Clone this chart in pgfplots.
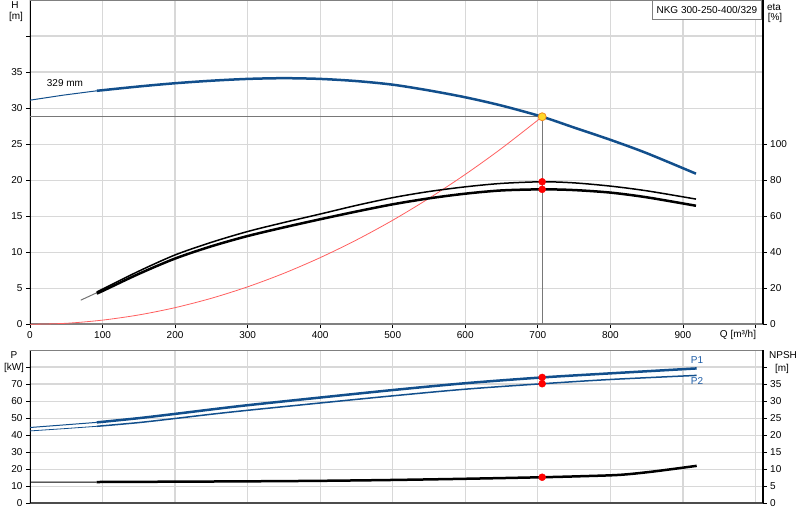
\documentclass[border=0pt]{standalone}
\usepackage{fontspec}
\setmainfont{Liberation Sans}
\usepackage{pgfplots}
\pgfplotsset{compat=1.18}

\definecolor{hblue}{RGB}{18,79,140}
\definecolor{pblue}{RGB}{30,92,165}
\definecolor{gridc}{RGB}{216,216,216}
\definecolor{axgray}{RGB}{128,128,128}
\definecolor{oplgray}{RGB}{120,120,120}
\definecolor{sysred}{RGB}{255,95,95}
\definecolor{opyel}{RGB}{255,215,40}
\definecolor{opor}{RGB}{240,140,30}

\pgfplotsset{
  base/.style={
    scale only axis,
    anchor=south west,
    width=732.7pt,
    xmin=0, xmax=1010,
    tick align=outside,
    major tick length=4pt,
    tick style={black, line width=0.8pt},
    tick label style={font=\fontsize{10}{12}\selectfont},
    /pgf/number format/assume math mode=true,
    grid style={gridc, line width=1.2pt},
  },
}

\begin{document}
\begin{tikzpicture}[font=\fontsize{10}{12}\selectfont]
\path[use as bounding box] (0,0) rectangle (800pt,520pt);

% ---------- top panel: H ----------
\begin{axis}[base, at={(30pt,195.7pt)}, height=324.3pt,
  ymin=0, ymax=45,
  axis x line*=bottom, axis y line*=left,
  xtick={0,100,...,1000},
  xticklabels={0,100,200,300,400,500,600,700,800,900,{}},
  ytick={0,5,...,40},
  yticklabels={0,5,10,15,20,25,30,35,{}},
  grid=major,
  x axis line style={-, axgray, line width=2pt},
  y axis line style={-, black, line width=1pt},
]
\draw[axgray, line width=1pt] (rel axis cs:0,1) -- (rel axis cs:1,1);
% operating point lines
\addplot[oplgray, line width=1pt] coordinates {(0,28.8) (706,28.8) (706,0)};
% system curve
\addplot[sysred, line width=0.8pt, smooth] coordinates {
  (0,0) (50,0.14) (100,0.58) (150,1.30) (200,2.31) (250,3.61) (300,5.20)
  (350,7.08) (400,9.25) (450,11.70) (500,14.44) (550,17.48) (600,20.80)
  (650,24.41) (706,28.8)};
% H curve
\addplot[hblue, line width=1pt] coordinates {(0,31.1) (46,31.8) (92,32.4)};
\addplot[hblue, line width=2.5pt, smooth] coordinates {
  (92,32.4) (150,33.0) (200,33.45) (250,33.8) (300,34.05) (350,34.15)
  (400,34.05) (450,33.75) (500,33.25) (550,32.45) (600,31.5) (650,30.35)
  (706,28.8) (750,27.3) (800,25.6) (850,23.75) (918,20.9)};
\addplot[only marks, mark=*, mark size=4pt,
  mark options={fill=opyel, draw=opor, line width=0.8pt}] coordinates {(706,28.8)};
\node[anchor=west, inner sep=0pt] at (axis cs:23,33.5) {329 mm};
\end{axis}

% ---------- top panel: eta ----------
\begin{axis}[base, at={(30pt,195.7pt)}, height=324.3pt,
  ymin=0, ymax=180,
  axis x line=none, axis y line*=right,
  ytick={0,20,...,100},
  y axis line style={-, black, line width=2pt},
]
\addplot[black!55, line width=1pt] coordinates {(70,13.4) (92,17.5)};
\addplot[black, line width=1.5pt, smooth] coordinates {
  (92,17.9) (100,19.5) (150,29.5) (200,38.5) (250,45.5) (300,51.5)
  (350,56.5) (400,61.2) (450,66.0) (500,70.3) (550,73.7) (600,76.3)
  (650,78.2) (706,79.1) (750,78.5) (800,76.7) (850,74.1) (918,69.5)};
\addplot[black, line width=2.5pt, smooth] coordinates {
  (92,17.1) (100,18.5) (150,28.0) (200,36.5) (250,43.3) (300,49.0)
  (350,53.8) (400,58.3) (450,62.6) (500,66.6) (550,69.9) (600,72.5)
  (650,74.3) (706,74.9) (750,74.5) (800,73.1) (850,70.5) (918,65.8)};
\addplot[only marks, mark=*, mark size=3.5pt, red] coordinates {(706,79.1) (706,74.9)};
\end{axis}

% ---------- bottom panel: P ----------
\begin{axis}[base, at={(30pt,16.7pt)}, height=153.3pt,
  ymin=0, ymax=90,
  axis x line*=bottom, axis y line*=left,
  xtick={0,100,...,1000}, xmajorticks=false,
  ytick={0,10,...,80},
  yticklabels={0,10,20,30,40,50,60,70,{}},
  grid=major,
  x axis line style={-, black!70, line width=2pt},
  y axis line style={-, black, line width=1pt},
]
\draw[axgray, line width=2pt] (rel axis cs:0,1) -- (rel axis cs:1,1);
\addplot[hblue, line width=1pt] coordinates {(0,44.5) (46,46.0) (92,47.5)};
\addplot[hblue, line width=2.5pt, smooth] coordinates {
  (92,47.5) (150,50.0) (200,52.5) (250,55.1) (300,57.6) (400,62.1)
  (500,66.5) (600,70.5) (706,73.9) (800,76.3) (919,79.2)};
\addplot[hblue, line width=0.8pt] coordinates {(0,42.5) (46,43.8) (92,45.2)};
\addplot[hblue, line width=1.5pt, smooth] coordinates {
  (92,45.2) (150,47.4) (200,49.8) (250,52.3) (300,54.6) (400,58.9)
  (500,63.1) (600,67.0) (706,70.2) (800,72.7) (919,75.1)};
\addplot[only marks, mark=*, mark size=3.5pt, red] coordinates {(706,73.9) (706,70.2)};
\end{axis}

% ---------- bottom panel: NPSH ----------
\begin{axis}[base, at={(30pt,16.7pt)}, height=153.3pt,
  ymin=0, ymax=45,
  axis x line=none, axis y line*=right,
  ytick={0,5,...,40},
  yticklabels={0,5,10,15,20,25,30,35,{}},
  y axis line style={-, black, line width=2pt},
]
\addplot[black, line width=1pt] coordinates {(0,6.2) (92,6.25)};
\addplot[black, line width=2.5pt, smooth] coordinates {
  (92,6.25) (200,6.35) (300,6.45) (400,6.6) (500,6.85) (600,7.2)
  (706,7.65) (760,7.95) (813,8.35) (858,9.3) (919,11.0)};
\addplot[only marks, mark=*, mark size=3.5pt, red] coordinates {(706,7.65)};
\end{axis}

% ---------- texts ----------
\node at (15pt,515pt) {H};
\node at (16pt,503pt) {[m]};
\node at (774pt,513pt) {eta};
\node at (775pt,502pt) {[\%]};
\node at (738pt,185pt) {Q [m³/h]};
\node at (14pt,164.5pt) {P};
\node at (14pt,152pt) {[kW]};
\node at (783pt,165pt) {NPSH};
\node at (782pt,151pt) {[m]};
\node[text=pblue] at (697pt,160pt) {P1};
\node[text=pblue] at (697pt,139pt) {P2};
\node[draw=axgray, fill=white, line width=0.8pt, minimum width=109pt,
  minimum height=19pt, inner sep=0pt, anchor=north west] at (652pt,520pt)
  {NKG 300-250-400/329};
\end{tikzpicture}
\end{document}
